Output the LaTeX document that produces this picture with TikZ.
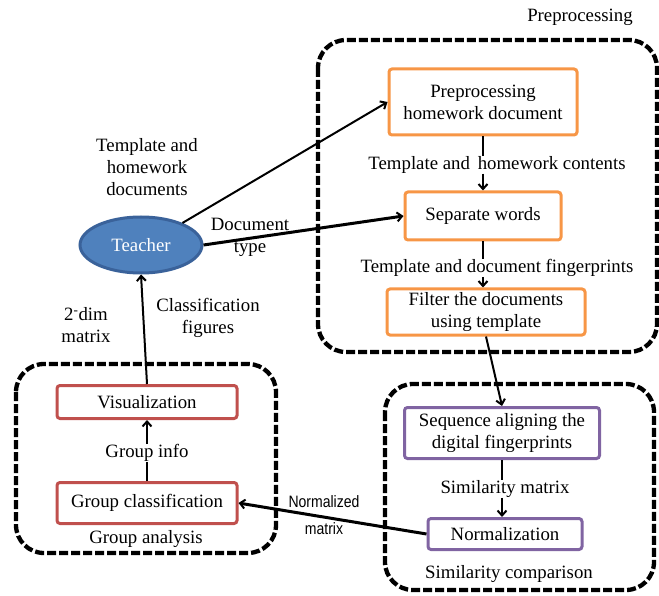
\documentclass[tikz,border=0pt]{standalone}
\usepackage{fontspec}
\setmainfont{Liberation Serif}
\newfontfamily\lsans{Liberation Sans}
\usetikzlibrary{arrows.meta,shapes.geometric}
\definecolor{orng}{HTML}{F79646}
\definecolor{redb}{HTML}{C0504D}
\definecolor{purp}{HTML}{8064A2}
\definecolor{tfill}{HTML}{4F81BD}
\definecolor{tdraw}{HTML}{3A629A}
\tikzset{
  container/.style={draw=black,line width=4.3pt,dash pattern=on 9pt off 3pt,rounded corners=28pt},
  obox/.style={draw=orng,line width=3pt,rounded corners=3pt,align=center,inner sep=0pt,fill=white},
  rbox/.style={draw=redb,line width=3pt,rounded corners=3pt,align=center,inner sep=0pt,fill=white},
  pbox/.style={draw=purp,line width=3pt,rounded corners=3pt,align=center,inner sep=0pt,fill=white},
  lbl/.style={align=center,inner sep=0pt},
  arr/.style={line width=2pt,-{Straight Barb[length=5pt,width=9pt,line width=2pt]}},
  ln/.style={line width=2pt},
}
\begin{document}
\begin{tikzpicture}[x=1pt,y=-1pt,font=\fontsize{18.8}{22}\selectfont]
\useasboundingbox (0,0) rectangle (659,596);
% containers
\draw[container] (318,40) rectangle (657,352);
\draw[container] (16,364) rectangle (276,553);
\draw[container] (385,384) rectangle (654,590);
\node[lbl] (lpre) at (580,17) {Preprocessing};
\node[lbl] (lga) at (146,539) {Group analysis};
\node[lbl] (lsc) at (509,574) {Similarity comparison};
% boxes
\node[obox,minimum width=188pt,minimum height=66pt] (pre) at (483,102) {Preprocessing\\homework document};
\node[obox,minimum width=156pt,minimum height=48pt] (sep) at (483,216) {Separate words};
\node[obox,minimum width=198pt,minimum height=46pt] (fil) at (486,312) {Filter the documents\\using template};
\node[rbox,minimum width=180pt,minimum height=33pt] (vis) at (147,402) {Visualization};
\node[rbox,minimum width=180pt,minimum height=41pt] (gc) at (147,503) {Group classification};
\node[pbox,minimum width=195pt,minimum height=51pt] (seq) at (502,433) {Sequence aligning the\\digital fingerprints};
\node[pbox,minimum width=154pt,minimum height=31pt] (nor) at (505,534) {Normalization};
\node[ellipse,fill=tfill,draw=tdraw,line width=3pt,minimum width=122pt,minimum height=56pt,text=white] (tea) at (141,245) {Teacher};
% labels
\node[lbl] (l1) at (497,165) {Template and\, homework contents};
\node[lbl] (l2) at (497,268) {Template and document fingerprints};
\node[lbl] (l3) at (147,167) {Template and\\homework\\documents};
\node[lbl] (l4) at (250,237) {Document\\type};
\node[lbl] (l5) at (208,318) {Classification\\figures};
\node[lbl] (l6) at (86,325) {2\textsuperscript{-}dim\\matrix};
\node[lbl] (l7) at (147,453) {Group info};
\node[lbl] (l8) at (505,489) {Similarity matrix};
\node[lbl,font=\lsans\fontsize{16.5}{27}\selectfont,xscale=0.85] (l9) at (324,515) {Normalized\\matrix};
% connectors
\draw[ln] (pre.south) -- (l1.north -| pre.south);
\draw[arr] (l1.south -| pre.south) -- (sep.north);
\draw[ln] (sep.south) -- (l2.north -| sep.south);
\draw[arr] (l2.south -| sep.south) -- (fil.north -| sep.south);
\draw[arr] (tea.28) -- (pre.west);
\draw[arr,line width=3pt] (tea.east) -- (sep.west);
\draw[arr] (vis.north) -- (tea.south);
\draw[ln] (gc.north) -- (l7.south -| gc.north);
\draw[arr] (l7.north -| vis.south) -- (vis.south);
\draw[ln] (seq.south) -- (l8.north -| seq.south);
\draw[arr] (l8.south -| seq.south) -- (nor.north -| seq.south);
\draw[arr] (fil.south) -- (seq.north);
\draw[arr,line width=3pt] (nor.west) -- (gc.east);
\end{tikzpicture}
\end{document}
